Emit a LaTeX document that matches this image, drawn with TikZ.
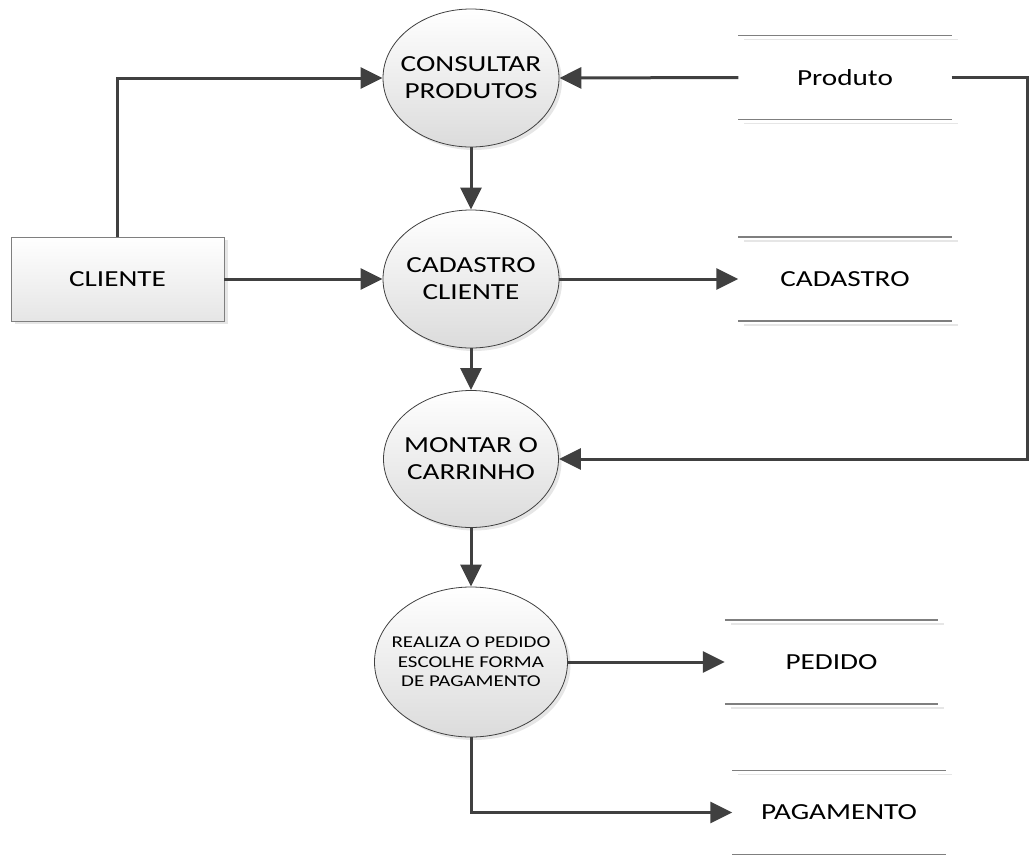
\documentclass[tikz,border=0pt]{standalone}
\usepackage{fontspec}
\setmainfont{Carlito}[FakeStretch=1.27]
\usetikzlibrary{shapes.geometric,arrows.meta,shadows}

\definecolor{linegray}{HTML}{404040}
\definecolor{boxgray}{HTML}{7F7F7F}
\definecolor{shadegray}{HTML}{E6E6E6}

\tikzset{
  process/.style={ellipse, draw=linegray, line width=0.8pt, inner xsep=-40pt, inner ysep=0pt,
    top color=white, bottom color=black!14, align=center,
    drop shadow={shadow xshift=3pt, shadow yshift=-3pt, opacity=0.2},
    font=\fontsize{23}{27}\selectfont},
  entity/.style={rectangle, draw=boxgray, line width=0.8pt,
    top color=white, bottom color=black!10,
    drop shadow={shadow xshift=4pt, shadow yshift=-3pt, opacity=0.2},
    minimum width=213pt, minimum height=84pt, font=\fontsize{23}{27}\selectfont},
  store/.style={minimum width=213pt, minimum height=84pt, inner sep=0pt,
    font=\fontsize{23}{27}\selectfont},
  storeline/.style={draw=boxgray, line width=1.5pt},
  storeshadow/.style={draw=shadegray, line width=1.5pt},
  flow/.style={draw=linegray, line width=3pt, -{Triangle[length=22pt,width=21pt]}},
}

\begin{document}
\begin{tikzpicture}[x=1pt,y=-1pt]
\useasboundingbox (0,0) rectangle (1029,855);

% processos
\node[process, minimum width=176pt, minimum height=138pt] (consultar) at (471,78) {CONSULTAR\\PRODUTOS};
\node[process, minimum width=176pt, minimum height=138pt] (cadcliente) at (471,279) {CADASTRO\\CLIENTE};
\node[process, minimum width=175pt, minimum height=137pt] (montar) at (471,459) {MONTAR O\\CARRINHO};
\node[process, minimum width=193pt, minimum height=150pt, font=\fontsize{16.5}{19.5}\selectfont] (realiza) at (471,662)
  {REALIZA O PEDIDO\\ESCOLHE FORMA\\DE PAGAMENTO};

% entidade externa
\node[entity] (cliente) at (117.5,279) {CLIENTE};

% depositos
\node[store] (produto) at (845,77.5) {Produto};
\node[store] (cadastro) at (845,279) {CADASTRO};
\node[store] (pedido) at (831.5,662) {PEDIDO};
\node[store] (pagamento) at (839,812.5) {PAGAMENTO};

\foreach \s in {produto,cadastro,pedido,pagamento}{
  \draw[storeshadow] ([shift={(6,4)}]\s.north west) -- ([shift={(6,4)}]\s.north east);
  \draw[storeshadow] ([shift={(6,4)}]\s.south west) -- ([shift={(6,4)}]\s.south east);
  \draw[storeline] (\s.north west) -- (\s.north east);
  \draw[storeline] (\s.south west) -- (\s.south east);
}

% fluxos
\coordinate (borda) at (1027,77.5);
\draw[flow] (cliente.north) |- (consultar.west);
\draw[flow] (produto.west) -- (consultar.east);
\draw[flow] (consultar.south) -- (cadcliente.north);
\draw[flow] (cliente.east) -- (cadcliente.west);
\draw[flow] (cadcliente.east) -- (cadastro.west);
\draw[flow] (cadcliente.south) -- (montar.north);
\draw[flow] (produto.east) -- (borda) |- (montar.east);
\draw[flow] (montar.south) -- (realiza.north);
\draw[flow] (realiza.east) -- (pedido.west);
\draw[flow] (realiza.south) |- (pagamento.west);
\end{tikzpicture}
\end{document}
